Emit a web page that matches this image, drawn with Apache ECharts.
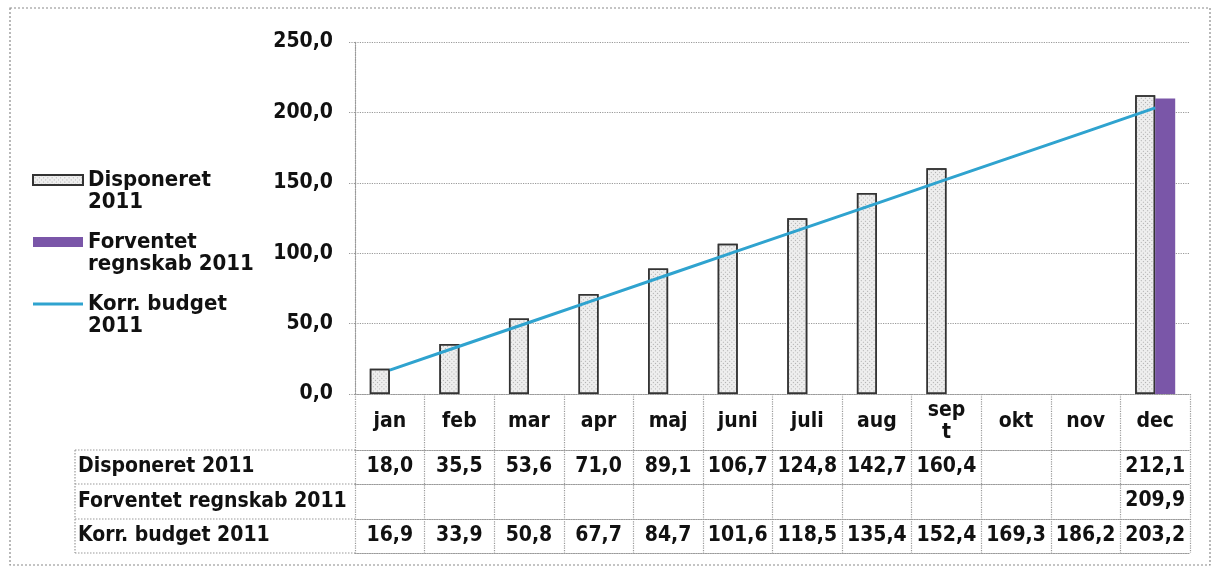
<!DOCTYPE html>
<html>
<head>
<meta charset="utf-8">
<script src="https://cdn.jsdelivr.net/npm/echarts@6/dist/echarts.min.js"></script>
<style>
html,body{margin:0;padding:0;background:#fff;}
#chart{width:1213px;height:566px;}
</style>
</head>
<body>
<div id="chart"></div>
<script>
const categories = ['jan','feb','mar','apr','maj','juni','juli','aug','sept','okt','nov','dec'];
const categoryLabels = ['jan','feb','mar','apr','maj','juni','juli','aug','sep\nt','okt','nov','dec'];
const disponeret = [18.0,35.5,53.6,71.0,89.1,106.7,124.8,142.7,160.4,null,null,212.1];
const forventet = [null,null,null,null,null,null,null,null,null,null,null,209.9];
const korrBudget = [16.9,33.9,50.8,67.7,84.7,101.6,118.5,135.4,152.4,169.3,186.2,203.2];
const seriesNames = ['Disponeret 2011','Forventet regnskab 2011','Korr. budget 2011'];
const legendLabels = ['Disponeret\n2011','Forventet\nregnskab 2011','Korr. budget\n2011'];
const yTicks = {min:0, max:250, interval:50};

const FONT = '"DejaVu Sans Condensed","DejaVu Sans",sans-serif';
const GRID = {left:355, right:23, top:42, bottom:172};
const W = 1213, H = 566;
const axisY = H - GRID.bottom;          // 394
const rowOffsets = [56, 90, 125, 159];  // table row boundaries below the axis
const tableLeft = 75;
const gridLine = {color:'#9a9a9a', type:'dotted', width:1.2};
const TFS = 21;

const fmt = v => (v === null || v === undefined) ? '' : v.toFixed(1).replace('.', ',');

const chart = echarts.init(document.getElementById('chart'), null, {renderer:'canvas'});

function rowAxis(offset, values) {
  return {
    type:'category', data:categories, gridIndex:0, position:'bottom', offset:offset,
    axisLine:{show:true, lineStyle:gridLine},
    axisTick:{show:false},
    splitLine:{show:false},
    axisLabel:{
      show: !!values, interval:0, margin:17, verticalAlign:'middle',
      fontFamily:FONT, fontWeight:'bold', fontSize:TFS, color:'#111',
      formatter:(v, i) => values ? fmt(values[i]) : ''
    }
  };
}

const graphics = [
  {type:'rect', shape:{x:10, y:8, width:1200, height:557}, style:{fill:null, stroke:'#8a8a8a', lineWidth:1.2, lineDash:[2,2]}, silent:true},
  {type:'line', shape:{x1:tableLeft, y1:axisY+rowOffsets[0], x2:tableLeft, y2:axisY+rowOffsets[3]}, style:{stroke:'#9a9a9a', lineWidth:1.2, lineDash:[1.5,1.5]}}
];
rowOffsets.forEach(o => graphics.push({type:'line', shape:{x1:tableLeft, y1:axisY+o, x2:GRID.left, y2:axisY+o}, style:{stroke:'#9a9a9a', lineWidth:1.2, lineDash:[1.5,1.5]}}));
seriesNames.forEach((t, i) => graphics.push({
  type:'text', left:tableLeft+3, top:axisY + (rowOffsets[i]+rowOffsets[i+1])/2 - 12,
  style:{text:t, fontFamily:FONT, fontWeight:'bold', fontSize:TFS, fill:'#111', lineHeight:24}
}));

const option = {
  animation:false,
  backgroundColor:'#ffffff',
  grid:GRID,
  legend:{
    orient:'vertical', left:27, top:142, itemWidth:50, itemHeight:10, itemGap:-4,
    data:[
      {name:seriesNames[0], icon:'rect'},
      {name:seriesNames[1], icon:'rect'},
      {name:seriesNames[2], icon:'path://M0,0 L50,0 L50,3 L0,3 Z'}
    ],
    formatter: name => '\n' + legendLabels[seriesNames.indexOf(name)],
    textStyle:{fontFamily:FONT, fontWeight:'bold', fontSize:22, color:'#111', lineHeight:22}
  },
  xAxis:[
    {
      type:'category', data:categories, gridIndex:0, position:'bottom',
      axisLine:{show:true, lineStyle:gridLine},
      axisTick:{show:true, interval:0, alignWithLabel:false, length:rowOffsets[3], lineStyle:gridLine},
      axisLabel:{interval:0, margin:28, verticalAlign:'middle', fontFamily:FONT, fontWeight:'bold', fontSize:TFS, color:'#111', lineHeight:22,
        formatter:(v, i) => categoryLabels[i]}
    },
    rowAxis(rowOffsets[0], disponeret),
    rowAxis(rowOffsets[1], forventet),
    rowAxis(rowOffsets[2], korrBudget),
    rowAxis(rowOffsets[3], null)
  ],
  yAxis:{
    type:'value', min:yTicks.min, max:yTicks.max, interval:yTicks.interval,
    axisLine:{show:true, lineStyle:gridLine},
    axisTick:{show:true, length:7, lineStyle:gridLine},
    splitLine:{show:true, lineStyle:gridLine},
    axisLabel:{margin:22, fontFamily:FONT, fontWeight:'bold', fontSize:21, color:'#111', formatter:v => fmt(v)}
  },
  series:[
    {
      name:seriesNames[0], type:'bar', data:disponeret, barWidth:20, barGap:'0%',
      itemStyle:{color:'#eeeeee', borderColor:'#333', borderWidth:1.5,
        decal:{symbol:'rect', symbolSize:1, dashArrayX:[[1,2]], dashArrayY:[1,2], color:'rgba(130,130,130,0.6)', rotation:Math.PI/4}}
    },
    {
      name:seriesNames[1], type:'bar', data:forventet, barWidth:20,
      itemStyle:{color:'#7a56a8', borderColor:'#7a56a8', borderWidth:0}
    },
    {
      name:seriesNames[2], type:'line', data:korrBudget, symbol:'none', showSymbol:false, z:5,
      lineStyle:{color:'#2fa3cf', width:3}, itemStyle:{color:'#2fa3cf'}
    }
  ],
  graphic:graphics
};
chart.setOption(option);
</script>
</body>
</html>
